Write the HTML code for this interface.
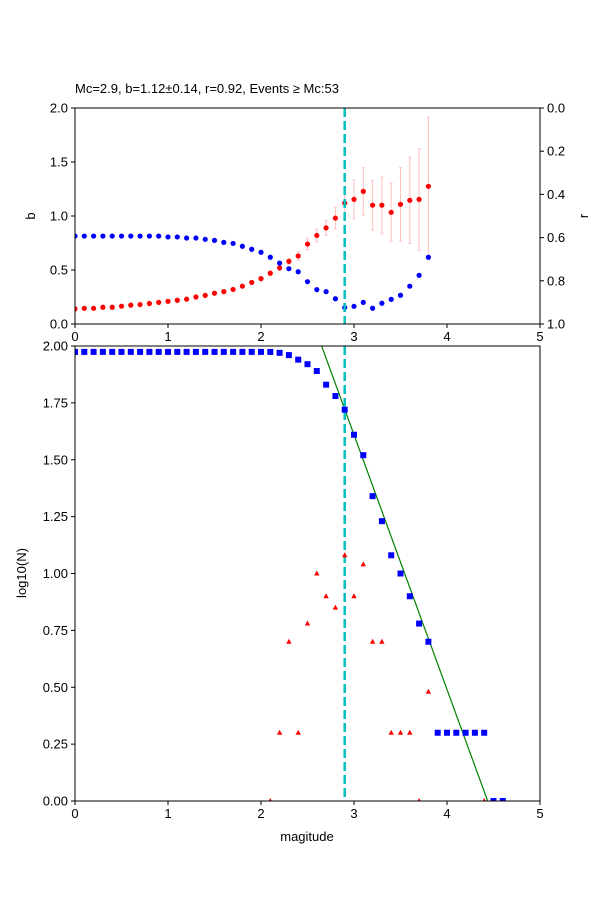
<!DOCTYPE html>
<html><head><meta charset="utf-8"><style>
body{margin:0;background:#fff}
svg{display:block;font-family:"Liberation Sans","DejaVu Sans",sans-serif}
</style></head><body>
<svg id="c" width="600" height="900"></svg>
<script>
const mags=[0,0.1,0.2,0.3,0.4,0.5,0.6,0.7,0.8,0.9,1.0,1.1,1.2,1.3,1.4,1.5,1.6,1.7,1.8,1.9,2.0,2.1,2.2,2.3,2.4,2.5,2.6,2.7,2.8,2.9,3.0,3.1,3.2,3.3,3.4,3.5,3.6,3.7,3.8];
const bVals=[0.14,0.145,0.145,0.155,0.155,0.165,0.175,0.18,0.19,0.2,0.21,0.22,0.23,0.25,0.265,0.285,0.30,0.32,0.35,0.385,0.42,0.47,0.52,0.58,0.63,0.74,0.82,0.89,0.98,1.12,1.154,1.228,1.1,1.1,1.034,1.108,1.145,1.154,1.275];
const bErr=[0.01,0.01,0.01,0.01,0.01,0.01,0.01,0.01,0.01,0.01,0.01,0.01,0.01,0.01,0.01,0.01,0.01,0.01,0.01,0.01,0.015,0.02,0.025,0.03,0.04,0.05,0.06,0.07,0.1,0.14,0.18,0.22,0.23,0.26,0.27,0.34,0.40,0.47,0.64];
const rVals=[0.593,0.593,0.593,0.593,0.593,0.593,0.593,0.593,0.593,0.593,0.597,0.597,0.602,0.602,0.608,0.613,0.622,0.627,0.64,0.654,0.668,0.691,0.718,0.744,0.758,0.804,0.841,0.85,0.883,0.924,0.918,0.900,0.927,0.904,0.886,0.867,0.825,0.775,0.691];
const cumMags=[0,0.1,0.2,0.3,0.4,0.5,0.6,0.7,0.8,0.9,1.0,1.1,1.2,1.3,1.4,1.5,1.6,1.7,1.8,1.9,2.0,2.1,2.2,2.3,2.4,2.5,2.6,2.7,2.8,2.9,3.0,3.1,3.2,3.3,3.4,3.5,3.6,3.7,3.8,3.9,4.0,4.1,4.2,4.3,4.4,4.5,4.6];
const cumLogN=[1.974,1.974,1.974,1.974,1.974,1.974,1.974,1.974,1.974,1.974,1.974,1.974,1.974,1.974,1.974,1.974,1.974,1.974,1.974,1.974,1.974,1.974,1.97,1.96,1.94,1.92,1.89,1.83,1.78,1.72,1.61,1.52,1.34,1.23,1.08,1.0,0.9,0.78,0.7,0.3,0.3,0.3,0.3,0.3,0.3,0,0];
const nonMags=[2.1,2.2,2.3,2.4,2.5,2.6,2.7,2.8,2.9,3.0,3.1,3.2,3.3,3.4,3.5,3.6,3.7,3.8,4.4];
const nonLogN=[0,0.3,0.7,0.3,0.78,1.0,0.9,0.85,1.08,0.9,1.04,0.7,0.7,0.3,0.3,0.3,0,0.48,0];
const Mc=2.9, aVal=4.97, bFit=1.12;
const xTicks=[0,1,2,3,4,5];
const bTicks=[0,0.5,1.0,1.5,2.0];
const rTicks=[0,0.2,0.4,0.6,0.8,1.0];
const nTicks=[0,0.25,0.5,0.75,1.0,1.25,1.5,1.75,2.0];

const L=75,R=540,T1=108,B1=324,T2=346,B2=801;
const X=m=>L+(R-L)*m/5;
const Yb=v=>B1-(B1-T1)*v/2;
const Yr=v=>T1+(B1-T1)*v;
const Yn=v=>B2-(B2-T2)*v/2;
const svg=document.getElementById('c');
const NS='http://www.w3.org/2000/svg';
function el(tag,attrs,parent){const e=document.createElementNS(NS,tag);for(const k in attrs)e.setAttribute(k,attrs[k]);(parent||svg).appendChild(e);return e;}
function txt(s,attrs){const e=el('text',attrs);e.textContent=s;return e;}

const defs=el('defs',{});
const c1=el('clipPath',{id:'cp1'},defs);el('rect',{x:L,y:T1,width:R-L,height:B1-T1},c1);
const c2=el('clipPath',{id:'cp2'},defs);el('rect',{x:L,y:T2,width:R-L,height:B2-T2},c2);

let t=txt('Mc=2.9, b=1.12±0.14, r=0.92, Events ≥ Mc:53',{x:L,y:93,'font-size':13});


const g1=el('g',{'clip-path':'url(#cp1)'});

mags.forEach((m,i)=>{
  const e=bErr[i];
  const eb=el('line',{x1:X(m),x2:X(m),y1:Yb(bVals[i]-e),y2:Yb(bVals[i]+e),stroke:'#ffc0c0','stroke-width':1},g1);
  
  [bVals[i]-e,bVals[i]+e].forEach(v=>el('line',{x1:X(m)-1.5,x2:X(m)+1.5,y1:Yb(v),y2:Yb(v),stroke:'#ffc0c0'},g1));
});
mags.forEach((m,i)=>{
  const p=el('circle',{cx:X(m),cy:Yb(bVals[i]),r:2.6,fill:'#ff0000'},g1);
  
});
mags.forEach((m,i)=>{
  const p=el('circle',{cx:X(m),cy:Yr(rVals[i]),r:2.6,fill:'#0000ff'},g1);
  
});
let mc1=el('line',{x1:X(Mc),x2:X(Mc),y1:T1,y2:B1,stroke:'#00bfbf','stroke-width':2.5,'stroke-dasharray':'9,4'},g1);


const g2=el('g',{'clip-path':'url(#cp2)'});

let fit=el('line',{x1:X(0),y1:Yn(aVal),x2:X(5),y2:Yn(aVal-bFit*5),stroke:'#008000','stroke-width':1.2},g2);

let mc2=el('line',{x1:X(Mc),x2:X(Mc),y1:T2,y2:B2,stroke:'#00bfbf','stroke-width':2.5,'stroke-dasharray':'9,4'},g2);

cumMags.forEach((m,i)=>{
  const p=el('rect',{x:X(m)-3,y:Yn(cumLogN[i])-3,width:6,height:6,fill:'#0000ff'},g2);
  
});
nonMags.forEach((m,i)=>{
  const x=X(m),y=Yn(nonLogN[i]);
  const p=el('polygon',{points:`${x},${y-3} ${x-2.7},${y+2} ${x+2.7},${y+2}`,fill:'#ff0000'},g2);
  
});

[[T1,B1],[T2,B2]].forEach(([a,b])=>{const f=el('rect',{x:L,y:a,width:R-L,height:b-a,fill:'none',stroke:'#000','stroke-width':1});
  });

xTicks.forEach(v=>{
  el('line',{x1:X(v),x2:X(v),y1:B1,y2:B1+4,stroke:'#000'});
  txt(String(v),{x:X(v),y:B1+17,'font-size':13,'text-anchor':'middle'});
  el('line',{x1:X(v),x2:X(v),y1:B2,y2:B2+4,stroke:'#000'});
  txt(String(v),{x:X(v),y:B2+17,'font-size':13,'text-anchor':'middle'});
});
bTicks.forEach(v=>{el('line',{x1:L-4,x2:L,y1:Yb(v),y2:Yb(v),stroke:'#000'});
  txt(v.toFixed(1),{x:L-7,y:Yb(v)+4.5,'font-size':13,'text-anchor':'end'});});
rTicks.forEach(v=>{el('line',{x1:R,x2:R+4,y1:Yr(v),y2:Yr(v),stroke:'#000'});
  txt(v.toFixed(1),{x:R+7,y:Yr(v)+4.5,'font-size':13});});
nTicks.forEach(v=>{el('line',{x1:L-4,x2:L,y1:Yn(v),y2:Yn(v),stroke:'#000'});
  txt(v.toFixed(2),{x:L-7,y:Yn(v)+4.5,'font-size':13,'text-anchor':'end'});});

t=txt('b',{x:35,y:216,'font-size':13,'text-anchor':'middle',transform:'rotate(-90 35 216)'});

t=txt('r',{x:588,y:216,'font-size':13,'text-anchor':'middle',transform:'rotate(-90 588 216)'});

t=txt('log10(N)',{x:26,y:573,'font-size':13,'text-anchor':'middle',transform:'rotate(-90 26 573)'});

t=txt('magitude',{x:307,y:841,'font-size':13,'text-anchor':'middle'});

</script>
</body></html>
